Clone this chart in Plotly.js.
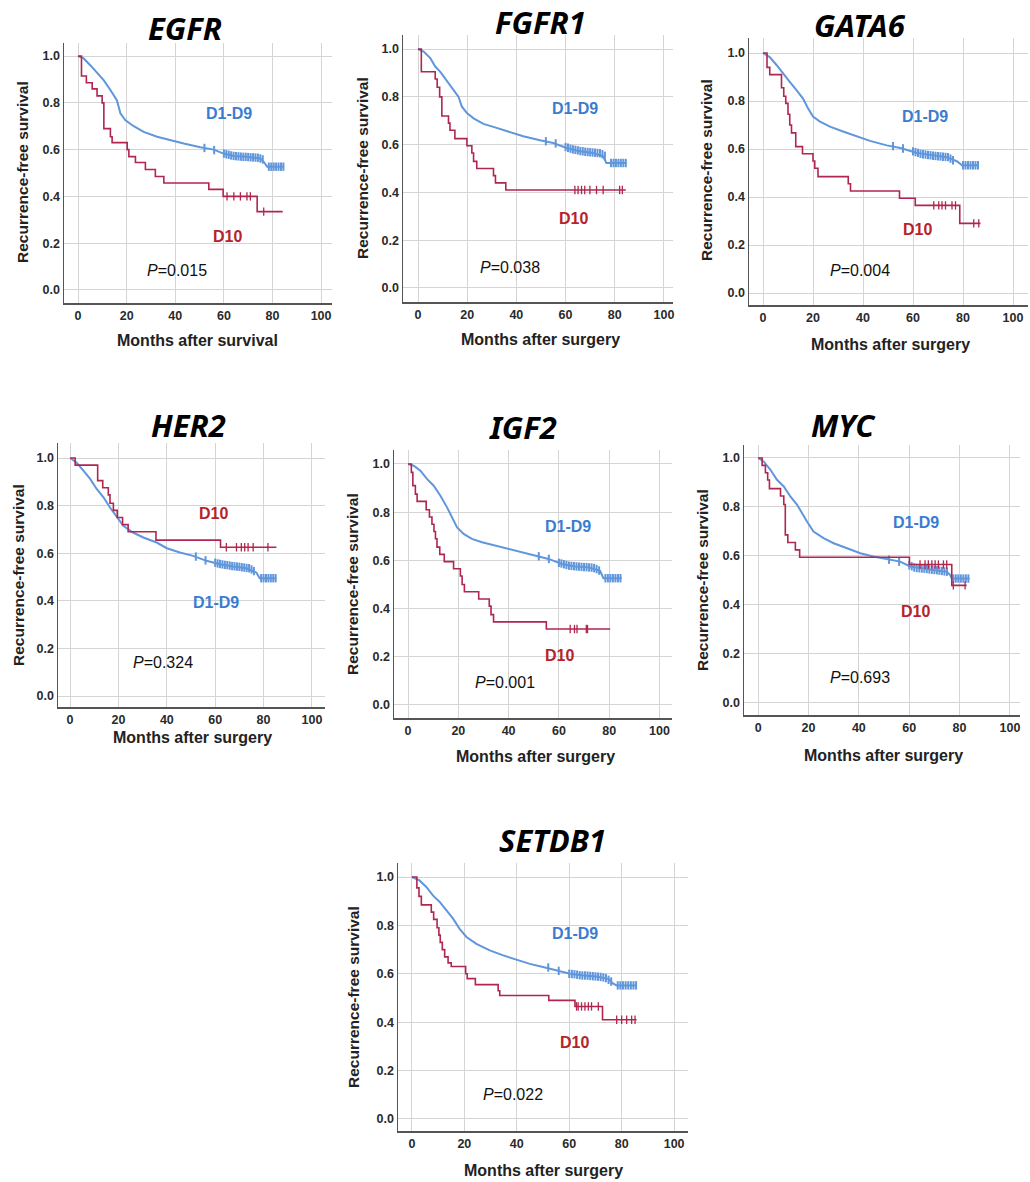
<!DOCTYPE html>
<html>
<head>
<meta charset="utf-8">
<script src="https://cdn.plot.ly/plotly-3.0.1.min.js"></script>
<style>html,body{margin:0;padding:0;background:#fff;}#chart{width:1030px;height:1182px;}</style>
</head>
<body>
<div id="chart"></div>
<script>
// ---------- DATA ----------
const geneNames = ["EGFR", "FGFR1", "GATA6", "HER2", "IGF2", "MYC", "SETDB1"];
const xAxisTitles = ["Months after survival", "Months after surgery", "Months after surgery", "Months after surgery", "Months after surgery", "Months after surgery", "Months after surgery"];
const pValues = ["0.015", "0.038", "0.004", "0.324", "0.001", "0.693", "0.022"];
const groupLabels = ["D1-D9", "D10"];
const xTickVals = [0, 20, 40, 60, 80, 100];
const yTickVals = [0, 0.2, 0.4, 0.6, 0.8, 1.0];

// EGFR
const egfrBlueT = [0, 2.3, 5.1, 7.8, 10.6, 13.3, 16, 17.4, 19.5, 22.9, 27, 32.5, 38, 43.5, 50.3, 55.8, 59.9, 64, 69.5, 75, 76.4, 77.8, 84.6];
const egfrBlueS = [1, 0.99, 0.96, 0.93, 0.896, 0.855, 0.81, 0.755, 0.725, 0.70, 0.676, 0.655, 0.64, 0.626, 0.61, 0.60, 0.583, 0.573, 0.569, 0.562, 0.548, 0.527, 0.527];
const egfrBlueCensT = [52, 56, 60, 61, 62, 63, 64, 65, 66, 67, 68, 69, 70, 71, 72, 73, 74, 75, 76, 78.5, 79.5, 80.5, 81.5, 82.5, 83.5, 84.5];
const egfrBlueCensS = [0.607, 0.598, 0.583, 0.58, 0.578, 0.575, 0.573, 0.572, 0.571, 0.57, 0.569, 0.569, 0.568, 0.567, 0.567, 0.566, 0.565, 0.562, 0.558, 0.527, 0.527, 0.527, 0.527, 0.527, 0.527, 0.527];
const egfrRedT = [0, 1.4, 3.4, 5.8, 7.8, 9.9, 10.6, 13.3, 14, 20.2, 20.9, 23.6, 27.7, 31.8, 35.3, 53.8, 59.7, 73.7, 84.2];
const egfrRedS = [1, 0.915, 0.886, 0.86, 0.83, 0.80, 0.69, 0.655, 0.63, 0.60, 0.57, 0.545, 0.515, 0.485, 0.457, 0.43, 0.40, 0.335, 0.335];
const egfrRedCensT = [61.3, 64.1, 66.8, 69.5, 70.9, 76.4];

// FGFR1
const fgfr1BlueT = [0, 2.3, 5, 7, 9, 11.8, 14.5, 16.5, 17.8, 19.9, 22.6, 26.6, 32, 37.4, 42.8, 49.6, 55, 60.4, 65.8, 71.2, 75.3, 76.6, 84.7];
const fgfr1BlueS = [1, 0.99, 0.962, 0.927, 0.906, 0.865, 0.83, 0.80, 0.76, 0.732, 0.71, 0.687, 0.67, 0.651, 0.635, 0.618, 0.607, 0.586, 0.572, 0.565, 0.551, 0.523, 0.523];
const fgfr1BlueCensT = [52, 56, 60, 61, 62, 63, 64, 65, 66, 67, 68, 69, 70, 71, 72, 73, 74, 75, 76, 78.5, 79.5, 80.5, 81.5, 82.5, 83.5, 84.5];
const fgfr1BlueCensS = [0.614, 0.605, 0.59, 0.587, 0.583, 0.58, 0.578, 0.576, 0.573, 0.572, 0.57, 0.569, 0.568, 0.567, 0.566, 0.565, 0.564, 0.56, 0.553, 0.523, 0.523, 0.523, 0.523, 0.523, 0.523, 0.523];
const fgfr1RedT = [0, 1.35, 7, 7.8, 8.8, 9.7, 12.4, 13, 15, 19.9, 21.9, 22.6, 23.9, 30.7, 31.5, 35.7, 84.5];
const fgfr1RedS = [1, 0.905, 0.875, 0.84, 0.80, 0.72, 0.69, 0.66, 0.625, 0.595, 0.565, 0.53, 0.50, 0.47, 0.44, 0.41, 0.41];
const fgfr1RedCensT = [63.8, 65.1, 66.5, 67.8, 69.9, 72.6, 75.3, 82, 83.1];

// GATA6
const gata6BlueT = [0, 2.7, 5.4, 8, 10.7, 13.4, 16, 18, 20, 22.8, 26.8, 32, 37.5, 42.8, 49.5, 55, 61.6, 68.3, 73.6, 77.7, 79.6, 86.3];
const gata6BlueS = [1, 0.983, 0.95, 0.914, 0.88, 0.845, 0.81, 0.77, 0.735, 0.714, 0.693, 0.673, 0.652, 0.634, 0.615, 0.604, 0.583, 0.572, 0.566, 0.548, 0.532, 0.532];
const gata6BlueCensT = [52, 56, 60, 61, 62, 63, 64, 65, 66, 67, 68, 69, 70, 71, 72, 73, 74, 75, 76, 80, 81, 82, 83, 84, 85, 86];
const gata6BlueCensS = [0.612, 0.602, 0.59, 0.587, 0.584, 0.58, 0.578, 0.577, 0.575, 0.574, 0.572, 0.571, 0.57, 0.569, 0.568, 0.567, 0.566, 0.56, 0.553, 0.532, 0.532, 0.532, 0.532, 0.532, 0.532, 0.532];
const gata6RedT = [0, 1.6, 2.7, 7.4, 8.3, 9.1, 10, 10.7, 11.4, 13.1, 15.8, 20, 20.7, 22, 34.1, 35, 54.6, 60.9, 78.7, 87];
const gata6RedS = [1, 0.94, 0.91, 0.855, 0.82, 0.79, 0.745, 0.70, 0.667, 0.61, 0.58, 0.55, 0.52, 0.485, 0.455, 0.425, 0.395, 0.365, 0.29, 0.29];
const gata6RedCensT = [68.3, 70.3, 71.6, 73, 75.6, 77, 84.3, 86.3];

// HER2
const her2BlueT = [0, 2.75, 5.5, 8.3, 11, 13.8, 16.5, 19.3, 22, 26, 30.3, 35.8, 40, 45.4, 50.9, 56.4, 61.9, 67.4, 72.9, 77, 78.4, 85.3];
const her2BlueS = [1, 0.98, 0.947, 0.912, 0.87, 0.835, 0.792, 0.75, 0.715, 0.687, 0.666, 0.645, 0.621, 0.603, 0.589, 0.568, 0.554, 0.544, 0.537, 0.519, 0.495, 0.495];
const her2BlueCensT = [52, 56, 60, 61, 62, 63, 64, 65, 66, 67, 68, 69, 70, 71, 72, 73, 74, 75, 76, 79, 80, 81, 82, 83, 84, 85];
const her2BlueCensS = [0.586, 0.57, 0.56, 0.557, 0.555, 0.553, 0.551, 0.55, 0.548, 0.546, 0.545, 0.544, 0.543, 0.541, 0.54, 0.538, 0.537, 0.532, 0.525, 0.495, 0.495, 0.495, 0.495, 0.495, 0.495, 0.495];
const her2RedT = [0, 2.1, 11.4, 13.5, 15.8, 16.5, 17.9, 19.5, 21.7, 24, 35.5, 62.2, 85.3];
const her2RedS = [1, 0.97, 0.905, 0.875, 0.845, 0.81, 0.78, 0.75, 0.72, 0.69, 0.655, 0.625, 0.625];
const her2RedCensT = [64.6, 68.8, 70.8, 72.2, 73.6, 75.7, 81.8];

// IGF2
const igf2BlueT = [0, 2.25, 4.9, 7.5, 10.2, 12.8, 15.5, 17.5, 19.5, 22.1, 25.4, 29.4, 34.7, 40, 45.3, 50.6, 55.9, 61.2, 66.5, 71.8, 76.4, 77.7, 85];
const igf2BlueS = [1, 0.993, 0.972, 0.938, 0.91, 0.869, 0.82, 0.779, 0.737, 0.71, 0.689, 0.675, 0.661, 0.647, 0.633, 0.62, 0.606, 0.585, 0.575, 0.571, 0.557, 0.526, 0.526];
const igf2BlueCensT = [52, 56, 60, 61, 62, 63, 64, 65, 66, 67, 68, 69, 70, 71, 72, 73, 74, 75, 76, 78.5, 79.5, 80.5, 81.5, 82.5, 83.5, 84.5];
const igf2BlueCensS = [0.617, 0.606, 0.59, 0.587, 0.584, 0.581, 0.578, 0.577, 0.576, 0.575, 0.574, 0.573, 0.572, 0.572, 0.571, 0.57, 0.568, 0.564, 0.558, 0.526, 0.526, 0.526, 0.526, 0.526, 0.526, 0.526];
const igf2RedT = [0, 1.3, 1.9, 2.9, 3.6, 7.2, 8.5, 9.5, 10.3, 10.9, 11.5, 12.6, 14.4, 18.1, 20.8, 21.5, 22.4, 28.1, 32.3, 33, 34, 55, 80.4];
const igf2RedS = [1, 0.965, 0.91, 0.875, 0.845, 0.81, 0.78, 0.75, 0.72, 0.69, 0.655, 0.625, 0.595, 0.565, 0.535, 0.50, 0.47, 0.44, 0.41, 0.375, 0.345, 0.315, 0.315];
const igf2RedCensT = [64.5, 66.2, 67.2, 70.9, 71.4];

// MYC
const mycBlueT = [0, 2.2, 4.9, 7.5, 10.2, 12.8, 15.5, 17.4, 19.4, 22, 26, 30, 35.3, 40.6, 45.8, 51.1, 56.4, 60.4, 64.3, 69.6, 74.9, 76.2, 76.9, 84];
const mycBlueS = [1, 0.986, 0.952, 0.911, 0.884, 0.843, 0.809, 0.775, 0.741, 0.70, 0.673, 0.652, 0.632, 0.611, 0.598, 0.588, 0.577, 0.557, 0.55, 0.543, 0.536, 0.523, 0.508, 0.508];
const mycBlueCensT = [52, 56, 60, 61, 62, 63, 64, 65, 66, 67, 68, 69, 70, 71, 72, 73, 74, 75, 77.5, 78.5, 79.5, 80.5, 81.5, 82.5, 83.5];
const mycBlueCensS = [0.585, 0.577, 0.562, 0.558, 0.553, 0.551, 0.55, 0.549, 0.548, 0.547, 0.545, 0.544, 0.543, 0.542, 0.54, 0.539, 0.537, 0.536, 0.508, 0.508, 0.508, 0.508, 0.508, 0.508, 0.508];
const mycRedT = [0, 1.6, 2.9, 3.8, 4.5, 8.9, 10.2, 10.8, 11.8, 14.8, 16.5, 60.1, 76.9, 82.8];
const mycRedS = [1, 0.97, 0.94, 0.91, 0.875, 0.845, 0.81, 0.686, 0.655, 0.625, 0.595, 0.565, 0.48, 0.48];
const mycRedCensT = [64.3, 66.3, 67.6, 69, 70.3, 71.6, 73.6, 74.9, 77.5, 82.2];

// SETDB1
const setdb1BlueT = [0, 2.9, 5.5, 8, 10.6, 13.1, 15.7, 18.2, 20.8, 24.6, 29.7, 34.8, 39.9, 45, 50, 55.2, 60.3, 65.4, 70.4, 74.9, 76.8, 78.1, 85.7];
const setdb1BlueS = [1, 0.986, 0.959, 0.924, 0.897, 0.862, 0.828, 0.786, 0.752, 0.724, 0.697, 0.676, 0.658, 0.641, 0.628, 0.614, 0.60, 0.593, 0.589, 0.579, 0.559, 0.552, 0.552];
const setdb1BlueCensT = [52, 56, 60, 61, 62, 63, 64, 65, 66, 67, 68, 69, 70, 71, 72, 73, 74, 75, 76, 78.5, 79.5, 80.5, 81.5, 82.5, 83.5, 84.5, 85.5];
const setdb1BlueCensS = [0.626, 0.612, 0.60, 0.599, 0.598, 0.596, 0.594, 0.593, 0.593, 0.592, 0.591, 0.59, 0.589, 0.588, 0.587, 0.585, 0.582, 0.575, 0.568, 0.552, 0.552, 0.552, 0.552, 0.552, 0.552, 0.552, 0.552];
const setdb1RedT = [0, 1.9, 2.7, 3.6, 7.4, 8.3, 9.6, 10.3, 10.8, 11.6, 12.5, 13.8, 15, 20.5, 21.1, 24.2, 32.9, 33.5, 52.2, 62.2, 72.7, 85.7];
const setdb1RedS = [1, 0.955, 0.92, 0.885, 0.855, 0.825, 0.79, 0.76, 0.73, 0.70, 0.67, 0.645, 0.63, 0.60, 0.58, 0.555, 0.53, 0.51, 0.49, 0.465, 0.41, 0.41];
const setdb1RedCensT = [62.8, 63.4, 64.7, 66, 67.3, 68.5, 71.1, 78.1, 80, 81.9, 83.8, 85.1];

// Label positions (data coords) for group labels and p-value
const blueLabelX = [62, 63.8, 64.9, 60.5, 63.8, 62.7, 62.2];
const blueLabelY = [0.754, 0.753, 0.735, 0.393, 0.74, 0.737, 0.766];
const redLabelX = [61.3, 63.1, 61.6, 59.1, 60.1, 62.4, 61.9];
const redLabelY = [0.228, 0.29, 0.265, 0.767, 0.205, 0.372, 0.317];
const pLabelX = [40.7, 37.4, 38.8, 38.5, 38.7, 40.6, 38.6];
const pLabelY = [0.085, 0.084, 0.093, 0.14, 0.094, 0.106, 0.099];

// ---------- LAYOUT GEOMETRY (pixels) ----------
const W = 1030, H = 1182;
const boxes = [
  {l: 64,  r: 332,  t: 43,  b: 303, xr: [-5.8, 104.5], yr: [-0.056, 1.056], title: [185, 28],  xt: [197, 340],  yt: [22, 172]},
  {l: 403, r: 673,  t: 35,  b: 302, xr: [-6.1, 103.7], yr: [-0.059, 1.059], title: [540, 22],  xt: [540, 339],  yt: [363, 168]},
  {l: 749, r: 1028, t: 38,  b: 305, xr: [-5.6, 106],   yr: [-0.05, 1.0625], title: [860, 25],  xt: [890, 345],  yt: [707, 170]},
  {l: 58,  r: 325,  t: 443, b: 707, xr: [-5, 105.4],   yr: [-0.046, 1.063], title: [188, 425], xt: [192, 737],  yt: [18, 575]},
  {l: 394, r: 672,  t: 450, b: 718, xr: [-5.6, 105],   yr: [-0.054, 1.058], title: [523, 427], xt: [535, 756],  yt: [352, 584]},
  {l: 744, r: 1020, t: 445, b: 715, xr: [-5.6, 104],   yr: [-0.049, 1.053], title: [843, 425], xt: [883, 755],  yt: [702, 580]},
  {l: 398, r: 688,  t: 863, b: 1131, xr: [-5.3, 105.3], yr: [-0.05, 1.058], title: [552, 840], xt: [543, 1170], yt: [353, 997]}
];

const curves = [
  [egfrBlueT, egfrBlueS, egfrBlueCensT, egfrBlueCensS, egfrRedT, egfrRedS, egfrRedCensT],
  [fgfr1BlueT, fgfr1BlueS, fgfr1BlueCensT, fgfr1BlueCensS, fgfr1RedT, fgfr1RedS, fgfr1RedCensT],
  [gata6BlueT, gata6BlueS, gata6BlueCensT, gata6BlueCensS, gata6RedT, gata6RedS, gata6RedCensT],
  [her2BlueT, her2BlueS, her2BlueCensT, her2BlueCensS, her2RedT, her2RedS, her2RedCensT],
  [igf2BlueT, igf2BlueS, igf2BlueCensT, igf2BlueCensS, igf2RedT, igf2RedS, igf2RedCensT],
  [mycBlueT, mycBlueS, mycBlueCensT, mycBlueCensS, mycRedT, mycRedS, mycRedCensT],
  [setdb1BlueT, setdb1BlueS, setdb1BlueCensT, setdb1BlueCensS, setdb1RedT, setdb1RedS, setdb1RedCensT]
];

const BLUE = "#6096dc", RED = "#b0264f";
const BLUE_TXT = "#3a7cd0", RED_TXT = "#b5232b";

// step-function value of KM curve at time t (value after last event <= t)
function stepAt(T, S, t) {
  let v = S[0];
  for (let i = 0; i < T.length; i++) { if (T[i] <= t) v = S[i]; }
  return v;
}

const traces = [];
const layout = {
  width: W, height: H,
  margin: {l: 0, r: 0, t: 0, b: 0},
  paper_bgcolor: "#fff", plot_bgcolor: "#fff",
  showlegend: false,
  annotations: []
};
const fontFam = "Liberation Sans, Arial, sans-serif";
function px2x(p) { return p / W; }
function px2y(p) { return 1 - p / H; }

boxes.forEach((b, i) => {
  const n = i + 1;
  const xa = n === 1 ? "x" : "x" + n;
  const ya = n === 1 ? "y" : "y" + n;
  const xkey = n === 1 ? "xaxis" : "xaxis" + n;
  const ykey = n === 1 ? "yaxis" : "yaxis" + n;
  const tf = {family: fontFam, size: 12.5, color: "#2a2a2a", weight: 700};
  layout[xkey] = {
    domain: [px2x(b.l), px2x(b.r)], range: b.xr, anchor: ya,
    tickvals: xTickVals, ticktext: xTickVals.map(String),
    showgrid: true, gridcolor: "#d4d4d4", gridwidth: 1,
    showline: true, linecolor: "#555", linewidth: 1.5, mirror: false,
    zeroline: false, ticks: "", tickfont: tf
  };
  layout[ykey] = {
    domain: [px2y(b.b), px2y(b.t)], range: b.yr, anchor: xa,
    tickvals: yTickVals, ticktext: yTickVals.map(v => v.toFixed(1)),
    showgrid: true, gridcolor: "#d4d4d4", gridwidth: 1,
    showline: true, linecolor: "#555", linewidth: 1.5, mirror: false,
    zeroline: false, ticks: "", tickfont: tf
  };
  const c = curves[i];
  // D1-D9 curve
  traces.push({x: c[0], y: c[1], xaxis: xa, yaxis: ya, mode: "lines", line: {color: BLUE, width: 2}, hoverinfo: "skip"});
  traces.push({x: c[2], y: c[3], xaxis: xa, yaxis: ya, mode: "markers",
    marker: {symbol: "line-ns", size: 6, color: BLUE, line: {color: BLUE, width: 2}}, hoverinfo: "skip"});
  // D10 curve
  traces.push({x: c[4], y: c[5], xaxis: xa, yaxis: ya, mode: "lines", line: {color: RED, width: 1.6, shape: "hv"}, hoverinfo: "skip"});
  traces.push({x: c[6], y: c[6].map(t => stepAt(c[4], c[5], t)), xaxis: xa, yaxis: ya, mode: "markers",
    marker: {symbol: "line-ns", size: 6, color: RED, line: {color: RED, width: 1.3}}, hoverinfo: "skip"});

  // gene title
  layout.annotations.push({text: geneNames[i], xref: "paper", yref: "paper", x: px2x(b.title[0]), y: px2y(b.title[1]),
    xanchor: "center", yanchor: "middle", showarrow: false,
    font: {family: "Noto Sans, DejaVu Sans, sans-serif", size: 31, color: "#000", weight: "bold", style: "italic"}});
  // x axis title
  layout.annotations.push({text: xAxisTitles[i], xref: "paper", yref: "paper", x: px2x(b.xt[0]), y: px2y(b.xt[1]),
    xanchor: "center", yanchor: "middle", showarrow: false,
    font: {family: fontFam, size: 16, color: "#222", weight: "bold"}});
  // y axis title
  layout.annotations.push({text: "Recurrence-free survival", xref: "paper", yref: "paper", x: px2x(b.yt[0]), y: px2y(b.yt[1]),
    xanchor: "center", yanchor: "middle", textangle: -90, showarrow: false,
    font: {family: fontFam, size: 15.5, color: "#222", weight: "bold"}});
  // group labels
  layout.annotations.push({text: groupLabels[0], xref: xa, yref: ya, x: blueLabelX[i], y: blueLabelY[i],
    xanchor: "center", yanchor: "middle", showarrow: false,
    font: {family: fontFam, size: 16, color: BLUE_TXT, weight: "bold"}});
  layout.annotations.push({text: groupLabels[1], xref: xa, yref: ya, x: redLabelX[i], y: redLabelY[i],
    xanchor: "center", yanchor: "middle", showarrow: false,
    font: {family: fontFam, size: 16, color: RED_TXT, weight: "bold"}});
  // p-value
  layout.annotations.push({text: "<i>P</i>=" + pValues[i], xref: xa, yref: ya, x: pLabelX[i], y: pLabelY[i],
    xanchor: "center", yanchor: "middle", showarrow: false,
    font: {family: fontFam, size: 16, color: "#111"}});
});

Plotly.newPlot("chart", traces, layout, {staticPlot: true, displayModeBar: false});
</script>
</body>
</html>
